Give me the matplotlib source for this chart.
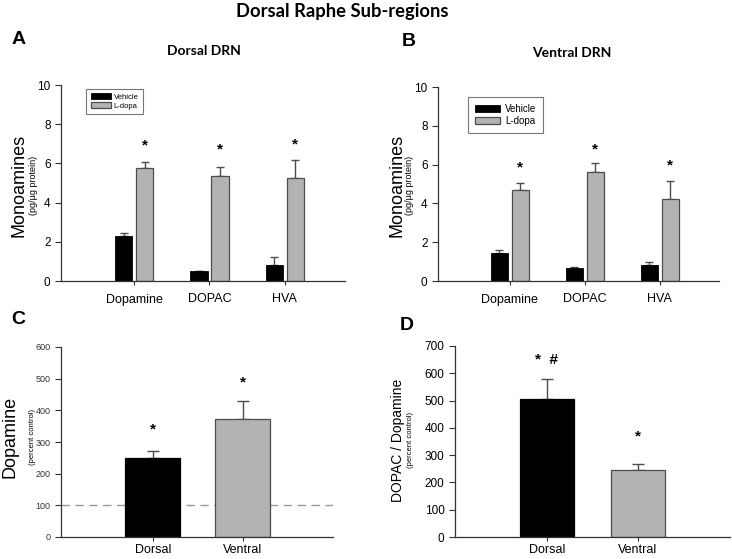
import numpy as np
import matplotlib.pyplot as plt

# panel A/B data (pg/ug protein)
compounds = ["Dopamine", "DOPAC", "HVA"]
dorsal_vehicle = [2.28, 0.49, 0.83]
dorsal_vehicle_err = [0.19, 0.03, 0.38]
dorsal_ldopa = [5.76, 5.38, 5.25]
dorsal_ldopa_err = [0.32, 0.46, 0.90]
dorsal_stars = [6.9, 6.7, 6.95]

ventral_vehicle = [1.44, 0.67, 0.84]
ventral_vehicle_err = [0.16, 0.07, 0.14]
ventral_ldopa = [4.71, 5.64, 4.24]
ventral_ldopa_err = [0.34, 0.44, 0.93]
ventral_stars = [5.85, 6.8, 5.95]

# panel C/D data (percent control)
regions = ["Dorsal", "Ventral"]
da_pct = [251, 373]
da_pct_err = [22, 55]
da_stars = [338, 488]
turnover_pct = [507, 245]
turnover_pct_err = [71, 21]
turnover_marks = ["*  #", "*"]
turnover_mark_y = [650, 370]

BLACK = "black"
GREY = "#b3b3b3"
EDGE = "#4d4d4d"

W, H = 732, 559
fig = plt.figure(figsize=(W / 100, H / 100), dpi=100)
plt.rcParams["font.family"] = ["Liberation Sans", "DejaVu Sans"]


def px(x, y):
    return x / W, 1 - y / H


def add_axes(left, top, right, bottom):
    l, t = px(left, top)
    r, b = px(right, bottom)
    ax = fig.add_axes([l, b, r - l, t - b])
    for s in ["top", "right"]:
        ax.spines[s].set_visible(False)
    for s in ["left", "bottom"]:
        ax.spines[s].set_color("#333333")
        ax.spines[s].set_linewidth(0.9)
    ax.tick_params(direction="out", length=4, width=0.8, color="#333333")
    return ax


def grouped(ax, veh, veh_err, ld, ld_err, stars, xlim):
    x = np.arange(len(compounds))
    w = 0.23
    ax.bar(x - 0.14, veh, w, color=BLACK, edgecolor=BLACK, linewidth=0.6, label="Vehicle", zorder=2)
    ax.bar(x + 0.14, ld, w, color=GREY, edgecolor=EDGE, linewidth=0.9, label="L-dopa", zorder=2)
    ax.errorbar(x - 0.14, veh, yerr=[np.zeros(3), veh_err], fmt="none", ecolor=EDGE,
                elinewidth=1, capsize=3, capthick=1, zorder=1)
    ax.errorbar(x + 0.14, ld, yerr=[np.zeros(3), ld_err], fmt="none", ecolor=EDGE,
                elinewidth=1, capsize=3, capthick=1, zorder=1)
    for xi, s in zip(x, stars):
        ax.text(xi + 0.14, s, "*", ha="center", va="center", fontsize=11, fontweight="bold")
    ax.set_xlim(*xlim)
    ax.set_ylim(0, 10)
    ax.set_yticks([0, 2, 4, 6, 8, 10])
    ax.set_xticks(x)
    ax.set_xticklabels(compounds, fontsize=9)
    ax.tick_params(axis="y", labelsize=8.5)
    ax.tick_params(axis="x", length=3, pad=6)


# A
axA = add_axes(61, 85, 345, 281)
grouped(axA, dorsal_vehicle, dorsal_vehicle_err, dorsal_ldopa, dorsal_ldopa_err,
        dorsal_stars, (-0.97, 2.8))
legA = axA.legend(loc="upper left", bbox_to_anchor=(0.075, 1.0), fontsize=5.5, frameon=True,
                  fancybox=False, edgecolor="#555555", handlelength=2.6, handleheight=0.7,
                  borderpad=0.6, labelspacing=0.2, handletextpad=0.4)
legA.get_frame().set_linewidth(0.8)

# B
axB = add_axes(438, 87, 719, 281)
grouped(axB, ventral_vehicle, ventral_vehicle_err, ventral_ldopa, ventral_ldopa_err,
        ventral_stars, (-0.96, 2.79))
legB = axB.legend(loc="upper left", bbox_to_anchor=(0.09, 0.975), fontsize=7, frameon=True,
                  fancybox=False, edgecolor="#555555", handlelength=2.6, handleheight=0.7,
                  borderpad=0.7, labelspacing=0.25, handletextpad=0.5)
legB.get_frame().set_linewidth(0.8)

# C
axC = add_axes(61, 347, 333, 537)
xc = np.arange(len(regions))
axC.axhline(100, color="#999999", linestyle=(0, (6, 4)), linewidth=1, zorder=0)
axC.bar(xc, da_pct, 0.61, color=[BLACK, GREY], edgecolor=[BLACK, EDGE], linewidth=0.9, zorder=2)
axC.errorbar(xc, da_pct, yerr=[np.zeros(2), da_pct_err], fmt="none", ecolor=EDGE,
             elinewidth=1, capsize=4, capthick=1, zorder=1)
for xi, s in zip(xc, da_stars):
    axC.text(xi, s, "*", ha="center", va="center", fontsize=11, fontweight="bold")
axC.set_xlim(-1.02, 2.0)
axC.set_ylim(0, 600)
axC.set_yticks(range(0, 700, 100))
axC.set_xticks(xc)
axC.set_xticklabels(regions, fontsize=9)
axC.tick_params(axis="y", labelsize=6.5, labelcolor="#333333")
axC.tick_params(axis="x", length=3, pad=2)

# D
axD = add_axes(455, 346, 730, 537)
axD.bar(xc, turnover_pct, 0.6, color=[BLACK, GREY], edgecolor=[BLACK, EDGE], linewidth=0.9, zorder=2)
axD.errorbar(xc, turnover_pct, yerr=[np.zeros(2), turnover_pct_err], fmt="none", ecolor=EDGE,
             elinewidth=1, capsize=4, capthick=1, zorder=1)
for xi, m, yy in zip(xc, turnover_marks, turnover_mark_y):
    axD.text(xi, yy, m, ha="center", va="center", fontsize=11, fontweight="bold")
axD.set_xlim(-1.01, 2.01)
axD.set_ylim(0, 700)
axD.set_yticks(range(0, 800, 100))
axD.set_xticks(xc)
axD.set_xticklabels(regions, fontsize=9)
axD.tick_params(axis="y", labelsize=8.5)
axD.tick_params(axis="x", length=3, pad=2)

# y labels
for (x1, x2, yc, big, bsize) in [(19, 33, 185, "Monoamines", 13), (397, 410, 185, "Monoamines", 13)]:
    fig.text(*px(x1, yc), big, rotation=90, ha="center", va="center", fontsize=bsize)
    fig.text(*px(x2, yc), "(pg/\u00b5g protein)", rotation=90, ha="center", va="center", fontsize=6.5)
fig.text(*px(10, 437), "Dopamine", rotation=90, ha="center", va="center", fontsize=13)
fig.text(*px(33, 437), "(percent control)", rotation=90, ha="center", va="center", fontsize=5.5)
fig.text(*px(398, 440), "DOPAC / Dopamine", rotation=90, ha="center", va="center", fontsize=10)
fig.text(*px(411, 440), "(percent control)", rotation=90, ha="center", va="center", fontsize=5.5)

# titles and panel letters
fig.text(*px(342, 11), "Dorsal Raphe Sub-regions", ha="center", va="center",
         fontsize=13.2, fontweight="bold", family=["Lato", "DejaVu Sans"])
fig.text(*px(204, 51), "Dorsal DRN", ha="center", va="center", fontsize=10,
         fontweight="bold", family=["Lato", "DejaVu Sans"])
fig.text(*px(572, 53), "Ventral DRN", ha="center", va="center", fontsize=10,
         fontweight="bold", family=["Lato", "DejaVu Sans"])
for lbl, x, y in [("A", 19, 40), ("B", 409, 42), ("C", 18, 319), ("D", 407, 326)]:
    fig.text(*px(x, y), lbl, ha="center", va="center", fontsize=14, fontweight="bold")

fig.savefig("out.png", dpi=100)
